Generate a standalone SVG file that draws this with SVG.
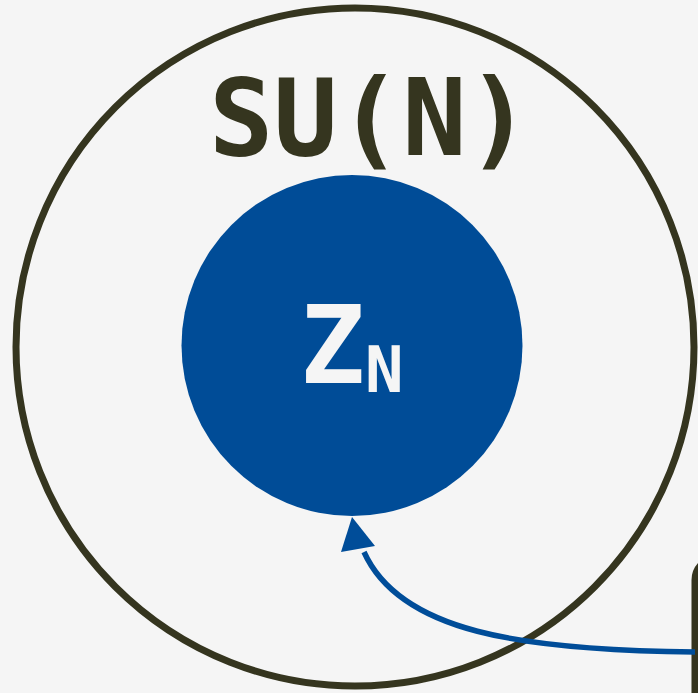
<svg xmlns="http://www.w3.org/2000/svg" width="698" height="693" viewBox="0 0 698 693">
  <defs>
    <style>
      .outline { fill: none; stroke: #35351f; stroke-width: 7; }
      .mono { font-family: "DejaVu Sans Mono", "Liberation Mono", monospace; font-weight: bold; }
      .conn { fill: none; stroke: #004d99; stroke-width: 5.5; }
    </style>
  </defs>
  <rect x="0" y="0" width="698" height="693" fill="#f5f5f5"/>
  <g id="su-n">
    <circle class="outline" cx="355" cy="347" r="339"/>
    <text class="mono" x="370" y="155" font-size="107" text-anchor="middle" fill="#35351f">SU(N)</text>
  </g>
  <g id="z-n">
    <circle cx="352" cy="345.5" r="170.5" fill="#004c97"/>
    <text class="mono" x="300" y="383" font-size="108" fill="#f5f5f5">Z<tspan x="365" y="392" font-size="64">N</tspan></text>
  </g>
  <g id="right-node">
    <rect class="outline" x="695" y="558" width="200" height="200" rx="22"/>
  </g>
  <g id="connectors">
    <path class="conn" d="M 695 652 C 520 650 400 632 364 552"/>
    <path d="M 352 517 L 375 546 L 341 552 z" fill="#004d99"/>
  </g>
</svg>
